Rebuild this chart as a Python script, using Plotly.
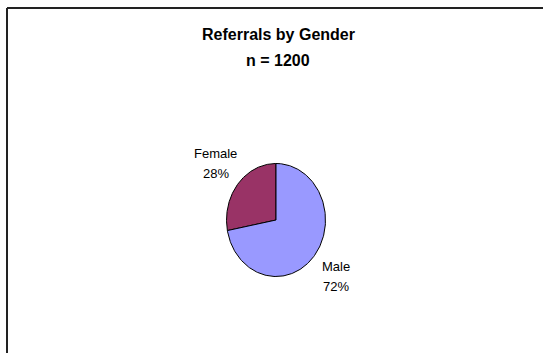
import numpy as np
import plotly.graph_objects as go

# Data
categories = ["Female", "Male"]
counts = [336, 864]          # n = 1200
slice_colors = ["#993366", "#9999FF"]
title_lines = ["Referrals by Gender", "n = 1200"]

W, H = 543, 353
# Pie geometry in pixels (slightly taller than wide)
cx, cy, rx, ry = 276.0, 220.0, 49.5, 56.5

total = sum(counts)
fracs = [c / total for c in counts]

fig = go.Figure()

# Wedges: start at 12 o'clock, go counterclockwise
start = 90.0
label_r = 1.58
annotations = []
for name, frac, col in zip(categories, fracs, slice_colors):
    sweep = frac * 360.0
    ang = np.radians(np.linspace(start, start + sweep, 200))
    xs = np.concatenate([[0], np.cos(ang), [0]])
    ys = np.concatenate([[0], np.sin(ang), [0]])
    fig.add_trace(go.Scatter(
        x=xs, y=ys, mode="lines", fill="toself", fillcolor=col,
        line=dict(color="black", width=1), hoverinfo="skip", showlegend=False,
    ))
    mid = np.radians(start + sweep / 2)
    lx, ly = label_r * np.cos(mid), label_r * np.sin(mid)
    pct = f"{round(frac * 100)}%"
    annotations.append(dict(x=lx, y=ly, xref="x", yref="y", text=name,
                            showarrow=False, yshift=10, yanchor="middle",
                            font=dict(size=13, color="black")))
    annotations.append(dict(x=lx, y=ly, xref="x", yref="y", text=pct,
                            showarrow=False, yshift=-10, yanchor="middle",
                            font=dict(size=13, color="black")))
    start += sweep

# Title lines
annotations.append(dict(x=278 / W, y=1 - 34 / H, xref="paper", yref="paper",
                        text=f"<b>{title_lines[0]}</b>", showarrow=False,
                        xanchor="center", yanchor="middle",
                        font=dict(size=16, color="black")))
annotations.append(dict(x=278 / W, y=1 - 60 / H, xref="paper", yref="paper",
                        text=f"<b>{title_lines[1]}</b>", showarrow=False,
                        xanchor="center", yanchor="middle",
                        font=dict(size=16, color="black")))

# Chart-area border (top and left edges)
shapes = [
    dict(type="line", xref="paper", yref="paper", x0=7 / W, x1=1.01,
         y0=1 - 8 / H, y1=1 - 8 / H, line=dict(color="#222222", width=2)),
    dict(type="line", xref="paper", yref="paper", x0=7 / W, x1=7 / W,
         y0=1 - 8 / H, y1=-0.01, line=dict(color="#222222", width=2)),
]

fig.update_layout(
    width=W, height=H,
    margin=dict(l=0, r=0, t=0, b=0),
    paper_bgcolor="white", plot_bgcolor="white",
    font=dict(family="Liberation Sans, Arial, sans-serif", color="black"),
    xaxis=dict(range=[-cx / rx, (W - cx) / rx], visible=False, fixedrange=True),
    yaxis=dict(range=[-(H - cy) / ry, cy / ry], visible=False, fixedrange=True),
    annotations=annotations,
    shapes=shapes,
    showlegend=False,
)

fig.write_html("out.html")
